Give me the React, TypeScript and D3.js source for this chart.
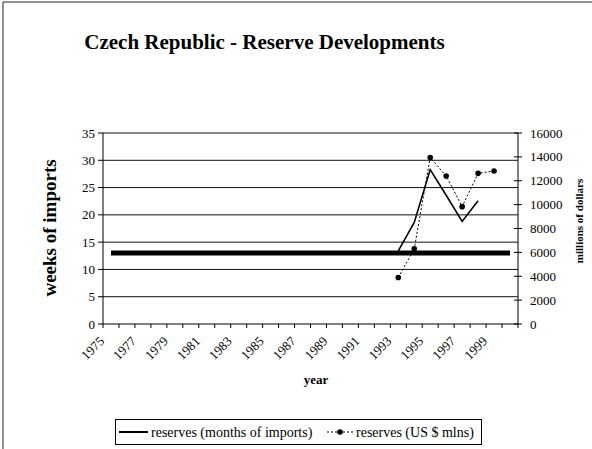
import { useEffect, useRef } from "react";
import * as d3 from "d3";

const years = [
  "1975", "1976", "1977", "1978", "1979", "1980", "1981", "1982", "1983",
  "1984", "1985", "1986", "1987", "1988", "1989", "1990", "1991", "1992",
  "1993", "1994", "1995", "1996", "1997", "1998", "1999", "2000",
];
const labelYears = years.filter((_, i) => i % 2 === 0 && i < 25);

// weeks of imports (left axis)
const weeksYears = ["1993", "1994", "1995", "1996", "1997", "1998"];
const weeksValues = [13.4, 18.6, 28.3, 23.6, 18.8, 22.6];

// reserves in US$ millions (right axis)
const usdYears = ["1993", "1994", "1995", "1996", "1997", "1998", "1999"];
const usdValues = [3900, 6300, 13950, 12400, 9830, 12620, 12820];

// 13 weeks (three months of imports) benchmark
const benchmarkValue = 13;

const leftTicks = [0, 5, 10, 15, 20, 25, 30, 35];
const rightTicks = [0, 2000, 4000, 6000, 8000, 10000, 12000, 14000, 16000];

export default function App() {
  const svgRef = useRef(null);

  useEffect(() => {
    if (!svgRef.current) return;
    const width = 592;
    const height = 449;
    const left = 103;
    const right = 518;
    const top = 133;
    const bottom = 324;
    const font = "'Liberation Serif', 'Times New Roman', serif";

    const svg = d3.select(svgRef.current);
    svg.selectAll("*").remove();
    svg.attr("width", width).attr("height", height).attr("viewBox", `0 0 ${width} ${height}`);

    svg.append("rect").attr("width", width).attr("height", height).attr("fill", "white");

    // outer frame (top and left edges visible)
    svg.append("line").attr("x1", 3).attr("x2", width).attr("y1", 2).attr("y2", 2)
      .attr("stroke", "#222").attr("stroke-width", 1);
    svg.append("line").attr("x1", 3).attr("x2", 3).attr("y1", 2).attr("y2", height)
      .attr("stroke", "#222").attr("stroke-width", 1);

    const x = d3.scaleBand().domain(years).range([left, right]);
    const yL = d3.scaleLinear().domain([0, 35]).range([bottom, top]);
    const yR = d3.scaleLinear().domain([0, 16000]).range([bottom, top]);
    const cx = (d) => x(d)! + x.bandwidth() / 2;

    // title
    svg.append("text").attr("x", 264.5).attr("y", 49).attr("text-anchor", "middle")
      .attr("font-family", font).attr("font-weight", "bold").attr("font-size", "21px")
      .attr("fill", "black").text("Czech Republic - Reserve Developments");

    // gridlines
    leftTicks.filter((t) => t > 0).forEach((t) => {
      svg.append("line").attr("x1", left).attr("x2", right)
        .attr("y1", yL(t)).attr("y2", yL(t))
        .attr("stroke", "#111").attr("stroke-width", 1);
    });

    // axes lines
    svg.append("line").attr("x1", left).attr("x2", right).attr("y1", bottom).attr("y2", bottom)
      .attr("stroke", "black").attr("stroke-width", 1);
    svg.append("line").attr("x1", left).attr("x2", left).attr("y1", top).attr("y2", bottom)
      .attr("stroke", "black").attr("stroke-width", 1);
    svg.append("line").attr("x1", right).attr("x2", right).attr("y1", top).attr("y2", bottom)
      .attr("stroke", "black").attr("stroke-width", 1);

    // left ticks and labels
    leftTicks.forEach((t) => {
      svg.append("line").attr("x1", left - 5).attr("x2", left)
        .attr("y1", yL(t)).attr("y2", yL(t)).attr("stroke", "black");
      svg.append("text").attr("x", left - 8).attr("y", yL(t)).attr("dy", "0.35em")
        .attr("text-anchor", "end").attr("font-family", font).attr("font-size", "13px")
        .text(t);
    });

    // right ticks and labels
    rightTicks.forEach((t) => {
      svg.append("line").attr("x1", right - 4).attr("x2", right + 4)
        .attr("y1", yR(t)).attr("y2", yR(t)).attr("stroke", "black");
      svg.append("text").attr("x", right + 12).attr("y", yR(t)).attr("dy", "0.35em")
        .attr("text-anchor", "start").attr("font-family", font).attr("font-size", "13px")
        .text(t);
    });

    // x ticks at category boundaries
    years.forEach((yr) => {
      svg.append("line").attr("x1", x(yr)).attr("x2", x(yr))
        .attr("y1", bottom).attr("y2", bottom + 4).attr("stroke", "black");
    });
    svg.append("line").attr("x1", right).attr("x2", right)
      .attr("y1", bottom).attr("y2", bottom + 4).attr("stroke", "black");

    // x labels
    labelYears.forEach((yr) => {
      svg.append("text")
        .attr("transform", `translate(${cx(yr) - 6},${bottom + 18}) rotate(-45)`)
        .attr("text-anchor", "end").attr("font-family", font).attr("font-size", "13px")
        .text(yr);
    });

    // axis titles
    svg.append("text").attr("x", 316).attr("y", 384).attr("text-anchor", "middle")
      .attr("font-family", font).attr("font-weight", "bold").attr("font-size", "13px")
      .text("year");
    svg.append("text").attr("transform", `translate(56,228) rotate(-90)`)
      .attr("text-anchor", "middle").attr("font-family", font).attr("font-weight", "bold")
      .attr("font-size", "19px").text("weeks of imports");
    svg.append("text").attr("transform", `translate(583,221) rotate(-90)`)
      .attr("text-anchor", "middle").attr("font-family", font).attr("font-weight", "bold")
      .attr("font-size", "11px").text("millions of dollars");

    // benchmark thick line
    svg.append("line").attr("x1", cx(years[0])).attr("x2", cx(years[years.length - 1]))
      .attr("y1", yL(benchmarkValue)).attr("y2", yL(benchmarkValue))
      .attr("stroke", "black").attr("stroke-width", 5);

    // weeks of imports
    const weeksLine = d3.line<number>().x((_, i) => cx(weeksYears[i])).y((d) => yL(d));
    svg.append("path").datum(weeksValues).attr("d", weeksLine)
      .attr("fill", "none").attr("stroke", "black").attr("stroke-width", 1.6);

    // usd reserves
    const usdLine = d3.line<number>().x((_, i) => cx(usdYears[i])).y((d) => yR(d));
    svg.append("path").datum(usdValues).attr("d", usdLine)
      .attr("fill", "none").attr("stroke", "black").attr("stroke-width", 1)
      .attr("stroke-dasharray", "2,2");
    usdValues.forEach((v, i) => {
      svg.append("circle").attr("cx", cx(usdYears[i])).attr("cy", yR(v)).attr("r", 2.8)
        .attr("fill", "black");
    });

    // legend
    const lg = svg.append("g");
    lg.append("rect").attr("x", 115.5).attr("y", 419.5).attr("width", 366).attr("height", 25)
      .attr("fill", "white").attr("stroke", "black").attr("stroke-width", 1);
    const ly = 432;
    lg.append("line").attr("x1", 119).attr("x2", 148).attr("y1", ly).attr("y2", ly)
      .attr("stroke", "black").attr("stroke-width", 2);
    lg.append("text").attr("x", 151).attr("y", ly).attr("dy", "0.35em")
      .attr("font-family", font).attr("font-size", "14px").text("reserves (months of imports)");
    lg.append("line").attr("x1", 327).attr("x2", 353).attr("y1", ly).attr("y2", ly)
      .attr("stroke", "black").attr("stroke-width", 1).attr("stroke-dasharray", "2,2");
    lg.append("circle").attr("cx", 340).attr("cy", ly).attr("r", 2.8).attr("fill", "black");
    lg.append("text").attr("x", 356).attr("y", ly).attr("dy", "0.35em")
      .attr("font-family", font).attr("font-size", "14px").text("reserves (US $ mlns)");
  }, []);

  return (
    <svg
      ref={svgRef}
      style={{ position: "absolute", left: 0, top: 0, display: "block" }}
    />
  );
}
